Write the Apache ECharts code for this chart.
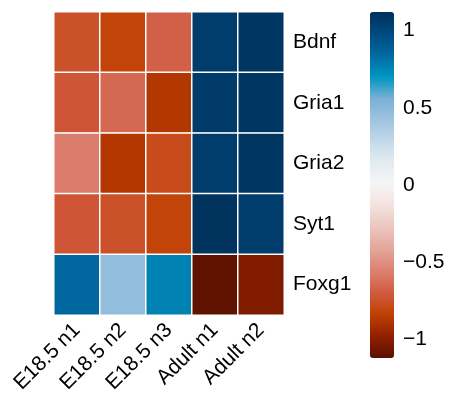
<!DOCTYPE html>
<html>
<head>
<meta charset="utf-8">
<script src="https://cdn.jsdelivr.net/npm/echarts@6/dist/echarts.min.js"></script>
<style>
  html, body { margin: 0; padding: 0; background: #fff; }
  #chart { width: 452px; height: 403px; }
</style>
</head>
<body>
<div id="chart"></div>
<script>
// samples (columns) and genes (rows, top to bottom)
const samples = ['E18.5 n1', 'E18.5 n2', 'E18.5 n3', 'Adult n1', 'Adult n2'];
const genes = ['Bdnf', 'Gria1', 'Gria2', 'Syt1', 'Foxg1'];

// scaled expression per gene, in sample order
const bdnf  = [-0.75, -0.82, -0.68, 1.05, 1.09];
const gria1 = [-0.72, -0.65, -0.88, 1.06, 1.09];
const gria2 = [-0.57, -0.88, -0.78, 1.05, 1.09];
const syt1  = [-0.72, -0.75, -0.82, 1.10, 1.05];
const foxg1 = [0.85, 0.47, 0.76, -1.10, -1.02];

const colorTicks = [1, 0.5, 0, -0.5, -1];
const limit = 1.12;

const rows = [bdnf, gria1, gria2, syt1, foxg1];
const cells = [];
rows.forEach((vals, r) => {
  vals.forEach((v, c) => cells.push([c, r, v]));
});

const chart = echarts.init(document.getElementById('chart'));
const font = 'Liberation Sans, Arial, sans-serif';

chart.setOption({
  animation: false,
  grid: [
    { left: 54, right: 168, top: 12, bottom: 88 },
    { left: 370, width: 24, top: 12, height: 346 }
  ],
  xAxis: [
    {
      type: 'category', data: samples, gridIndex: 0,
      axisLine: { show: false }, axisTick: { show: false }, splitLine: { show: false },
      axisLabel: { rotate: 45, fontSize: 21, color: '#000', fontFamily: font, margin: 12, interval: 0 }
    },
    { type: 'value', gridIndex: 1, show: false }
  ],
  yAxis: [
    {
      type: 'category', data: genes, inverse: true, position: 'right', gridIndex: 0,
      axisLine: { show: false }, axisTick: { show: false }, splitLine: { show: false },
      axisLabel: { fontSize: 21, color: '#000', fontFamily: font, margin: 9 }
    },
    {
      type: 'value', gridIndex: 1, position: 'right', min: -limit, max: limit,
      axisLine: { show: false }, axisTick: { show: false }, splitLine: { show: false },
      axisLabel: {
        fontSize: 21, color: '#000', fontFamily: font, margin: 9,
        customValues: colorTicks,
        formatter: v => String(v).replace('-', '\u2212')
      }
    }
  ],
  visualMap: {
    type: 'continuous',
    min: -limit, max: limit,
    seriesIndex: 0,
    calculable: false,
    showLabel: false,
    text: null,
    left: 370, top: 12,
    itemWidth: 24, itemHeight: 346,
    padding: 0,
    inRange: {
      color: [
        '#581000', '#902000', '#c04000', '#d05a40', '#dc8070', '#e4a498',
        '#ecc4bc', '#f2e0dc', '#f5f5f5', '#e4ecf2', '#c4d9ea', '#a0c4e0',
        '#7ab0d4', '#0095c0', '#006aa0', '#004a80', '#00305a'
      ]
    }
  },
  series: [{
    type: 'heatmap',
    xAxisIndex: 0, yAxisIndex: 0,
    data: cells,
    itemStyle: { borderColor: '#fff', borderWidth: 1.5 },
    emphasis: { disabled: true }
  }]
});
</script>
</body>
</html>
